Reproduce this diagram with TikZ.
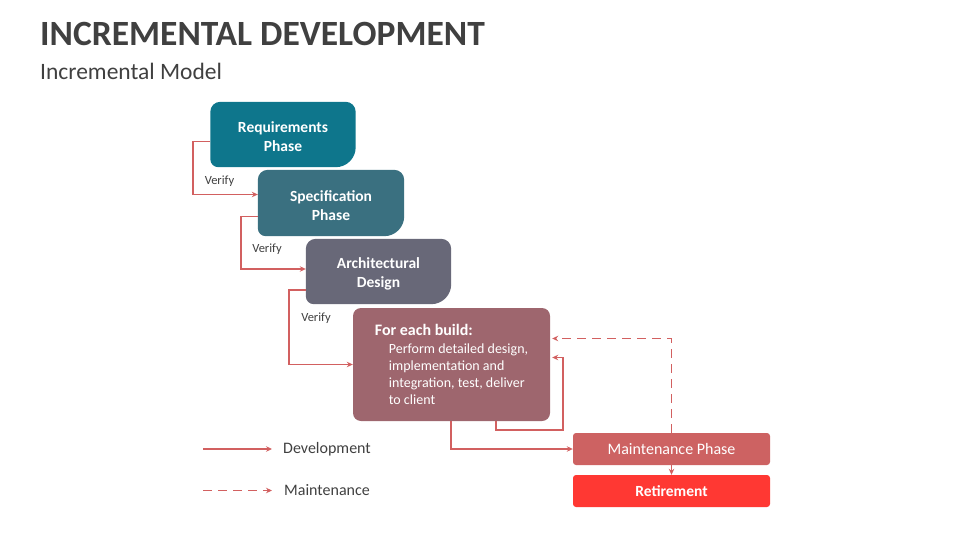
\documentclass[tikz,border=0pt]{standalone}
\usepackage{fontspec}
\setmainfont{Carlito}
\usetikzlibrary{arrows.meta,backgrounds,calc}
\definecolor{cReq}{RGB}{14,118,140}
\definecolor{cSpec}{RGB}{58,112,128}
\definecolor{cArch}{RGB}{104,104,120}
\definecolor{cBuild}{RGB}{158,102,110}
\definecolor{cMaint}{RGB}{205,98,98}
\definecolor{cRet}{RGB}{255,56,51}
\definecolor{cLine}{RGB}{210,96,96}
\definecolor{cText}{RGB}{64,64,64}
\begin{document}
\begin{tikzpicture}[x=1pt,y=-1pt,
  phase/.style={minimum width=145pt, minimum height=65pt, inner sep=0pt, align=center, text=white,
    font=\fontsize{15.5}{19}\selectfont\bfseries},
  flow/.style={draw=cLine, line width=1.8pt, -{Stealth[length=6pt,width=5.5pt]}},
  maintflow/.style={flow, dash pattern=on 9pt off 6pt},
  lbl/.style={text=cText, inner sep=0pt, font=\fontsize{12.5}{14}\selectfont},
  legtext/.style={text=cText, inner sep=0pt, anchor=west, font=\fontsize{16}{18}\selectfont},
  bar/.style={minimum width=197pt, minimum height=32pt, inner sep=0pt, text=white, rounded corners=3pt}
]
\useasboundingbox (0,0) rectangle (960,540);

% titles
\node[anchor=base west, inner sep=0pt, text=cText, font=\fontsize{35.5}{36}\selectfont\bfseries] (title) at (40,46) {INCREMENTAL DEVELOPMENT};
\node[anchor=base west, inner sep=0pt, text=cText, font=\fontsize{23.5}{24}\selectfont] (sub) at (40,80) {Incremental Model};

% phases
\node[phase] (req) at (283,134.5) {\\[-3pt]Requirements\\Phase};
\node[phase, minimum width=146pt, minimum height=66pt] (spec) at (331,203) {\\[-3pt]Specification\\Phase};
\node[phase] (arch) at (378.5,271.5) {\\[-3pt]Architectural\\Design};

\node[minimum width=197pt, minimum height=113pt, inner sep=0pt, align=left, text=white,
  fill=cBuild, rounded corners=8pt, font=\fontsize{14}{17}\selectfont] (build) at (451.5,364.5)
  {{\fontsize{16}{18}\selectfont\bfseries For each build:}\\[1pt]
   \hspace*{14pt}Perform detailed design,\\
   \hspace*{14pt}implementation and\\
   \hspace*{14pt}integration, test, deliver\\
   \hspace*{14pt}to client};

\node[bar, fill=cMaint, font=\fontsize{16}{18}\selectfont] (maint) at (671.5,449) {Maintenance Phase};
\node[bar, fill=cRet, font=\fontsize{15.5}{18}\selectfont\bfseries] (ret) at (671.5,491) {Retirement};

\begin{scope}[on background layer]
  \foreach \n/\c in {req/cReq, spec/cSpec, arch/cArch}{
    \fill[\c] (\n.west) [rounded corners=10pt] -- (\n.north west) -- (\n.north east)
      [rounded corners=20pt] -- (\n.south east) [rounded corners=8pt] -- (\n.south west) -- cycle;
  }
\end{scope}

% verify connectors
\draw[flow] ($(req.west)+(0,7)$) -- ++(-17,0) |- ($(spec.west)+(0,-8.5)$);
\draw[flow] ($(spec.west)+(0,13.5)$) -- ++(-17,0) |- ($(arch.west)+(0,-2.5)$);
\draw[flow] ($(arch.west)+(0,18.5)$) -- ++(-17,0) |- (build.west);

\node[lbl] (v1) at (219.5,181) {Verify};
\node[lbl] (v2) at (267,249) {Verify};
\node[lbl] (v3) at (316,318.5) {Verify};

% build -> maintenance
\draw[flow] ($(build.south west)+(98,0)$) |- (maint.west);
\coordinate (loopA) at ($(build.south west)+(143,0)$);
\draw[flow] (loopA) -- ++(0,9) -- ++(67,0) |- ($(build.east)+(2,-7)$);
\draw[maintflow] (maint.north) |- ($(build.east)+(2,-26)$);
\draw[flow] (maint.south) -- (ret.north);

% legend
\coordinate (l1a) at (203,449);
\coordinate (l1b) at (272,449);
\coordinate (l2a) at (203,490.5);
\coordinate (l2b) at (272,490.5);
\draw[flow] (l1a) -- (l1b);
\draw[maintflow] (l2a) -- (l2b);
\node[legtext] (dev) at (283,449) {Development};
\node[legtext] (mnt) at (284,490.5) {Maintenance};
\end{tikzpicture}
\end{document}
